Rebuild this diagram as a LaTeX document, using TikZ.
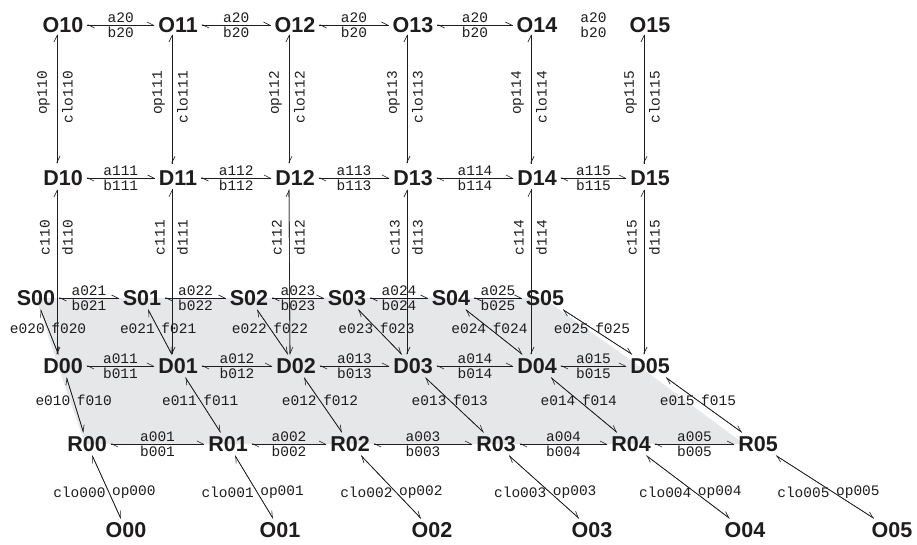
\documentclass[tikz,border=0pt]{standalone}
\usepackage{fontspec}
\setmainfont{Liberation Sans}
\newfontfamily\monofam{Liberation Mono}
\usetikzlibrary{arrows.meta,calc}
\definecolor{shadegray}{RGB}{230,231,233}
\definecolor{inkc}{RGB}{30,28,29}
\begin{document}
\begin{tikzpicture}[x=1pt,y=-1pt,
  nd/.style={font=\fontsize{21.5}{24}\selectfont\bfseries, text=inkc, inner sep=0pt, outer sep=4pt},
  lb/.style={font=\fontsize{14.5}{16}\selectfont\monofam, text=inkc, inner sep=2pt},
  dl/.style={lb, inner sep=3pt},
  vl/.style={lb, inner sep=0pt, rotate=90},
  harp/.style={draw=inkc, line width=0.6pt, -{Straight Barb[left,length=6pt,width=6pt]}},
]
\useasboundingbox (0,0) rectangle (917,544);
\fill[shadegray] (36,298) -- (543,298) -- (639,366) -- (744,444) -- (85,444) -- (58,366) -- cycle;

% nodes
\foreach \n/\x in {0/63,1/178,2/295,3/413,4/537,5/650}{
  \node[nd] (O1\n) at (\x,25) {O1\n};
  \node[nd] (D1\n) at (\x,178) {D1\n};
}
\foreach \n/\x in {0/63,1/178,2/296,3/413,4/537,5/650}{
  \node[nd] (D0\n) at (\x,366) {D0\n};
}
\foreach \n/\x in {0/36,1/142,2/249,3/347,4/451,5/545}{
  \node[nd] (S0\n) at (\x,298) {S0\n};
}
\foreach \n/\x in {0/87,1/228,2/350,3/496,4/631,5/758}{
  \node[nd] (R0\n) at (\x,444) {R0\n};
}
\foreach \n/\x in {0/126,1/280,2/432,3/592,4/745,5/892}{
  \node[nd] (O0\n) at (\x,530) {O0\n};
}

% horizontal connectors
\foreach \i/\j in {0/1,1/2,2/3,3/4}{
  \draw[harp] (O1\i) -- (O1\j) node[midway,above,lb]{a20} node[midway,below,lb]{b20};
  \draw[harp] (O1\j) -- (O1\i);
}
\path (O14) -- (O15) node[midway,above,lb]{a20} node[midway,below,lb]{b20};
\foreach \i/\j in {0/1,1/2,2/3,3/4,4/5}{
  \draw[harp] (D1\i) -- (D1\j) node[midway,above,lb]{a11\j} node[midway,below,lb]{b11\j};
  \draw[harp] (D1\j) -- (D1\i);
  \draw[harp] (S0\i) -- (S0\j) node[midway,above,lb]{a02\j} node[midway,below,lb]{b02\j};
  \draw[harp] (S0\j) -- (S0\i);
  \draw[harp] (D0\i) -- (D0\j) node[midway,above,lb]{a01\j} node[midway,below,lb]{b01\j};
  \draw[harp] (D0\j) -- (D0\i);
  \draw[harp] (R0\i) -- (R0\j) node[midway,above,lb]{a00\j} node[midway,below,lb]{b00\j};
  \draw[harp] (R0\j) -- (R0\i);
}

% vertical connectors
\foreach \j in {0,...,5}{
  \draw[harp] ([shift={(-6,-2)}]O1\j.south) -- ([shift={(-6,-3)}]D1\j.north);
  \draw[harp] ([shift={(-6,-3)}]D1\j.north) -- ([shift={(-6,-2)}]O1\j.south);
  \node[vl, anchor=south east] at ($(O1\j.center)+(-13,46)$) {op11\j};
  \node[vl, anchor=north east] at ($(O1\j.center)+(-1,46)$) {clo11\j};
  \draw[harp] ([xshift=-6]D1\j.south) -- ([xshift=-6]D0\j.north);
  \draw[harp] ([xshift=-6]D0\j.north) -- ([xshift=-6]D1\j.south);
  \node[vl, anchor=south east] at ($(D1\j.center)+(-13,42)$) {c11\j};
  \node[vl, anchor=north east] at ($(D1\j.center)+(-1,42)$) {d11\j};
}

% diagonal connectors
\foreach \j in {0,...,5}{
  \draw[harp] (S0\j) -- (D0\j) node[pos=0.42,left,dl]{e02\j} node[pos=0.42,right,dl]{f02\j};
  \draw[harp] (D0\j) -- (S0\j);
  \draw[harp] (D0\j) -- (R0\j) node[pos=0.42,left,dl]{e01\j} node[pos=0.42,right,dl]{f01\j};
  \draw[harp] (R0\j) -- (D0\j);
  \draw[harp] (R0\j) -- (O0\j) node[pos=0.58,left,dl]{clo00\j} node[pos=0.58,right,dl]{op00\j};
  \draw[harp] (O0\j) -- (R0\j);
}
\end{tikzpicture}
\end{document}
